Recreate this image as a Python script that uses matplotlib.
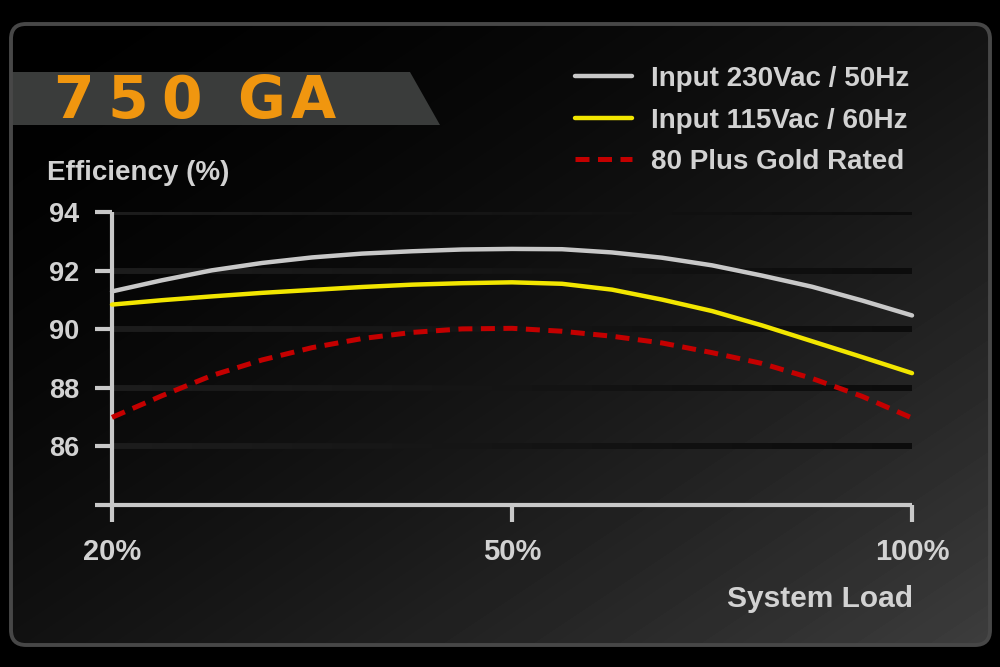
import numpy as np
import matplotlib
matplotlib.use("Agg")
import matplotlib.pyplot as plt
from matplotlib.patches import FancyBboxPatch, Polygon
from matplotlib.collections import LineCollection

plt.rcParams['font.family'] = ['Liberation Sans', 'DejaVu Sans']

# ---------------- data ----------------
title = "750 GA"
load_labels = ["20%", "50%", "100%"]
load_pos = [0, 1, 2]
# sample positions along the (evenly spaced) load axis, 0 = 20%, 1 = 50%, 2 = 100%
pos = [0, 0.125, 0.25, 0.375, 0.5, 0.625, 0.75, 0.875, 1.0,
       1.125, 1.25, 1.375, 1.5, 1.625, 1.75, 1.875, 2.0]
eff_230 = [91.29, 91.67, 92.01, 92.26, 92.45, 92.58, 92.66, 92.72, 92.74,
           92.73, 92.62, 92.44, 92.18, 91.83, 91.45, 90.98, 90.47]
eff_115 = [90.84, 90.99, 91.12, 91.24, 91.34, 91.44, 91.52, 91.57, 91.60,
           91.55, 91.35, 91.01, 90.62, 90.13, 89.59, 89.05, 88.50]
eff_gold = [86.99, 87.73, 88.42, 88.95, 89.37, 89.68, 89.89, 90.01, 90.03,
            89.93, 89.76, 89.53, 89.20, 88.83, 88.32, 87.71, 86.97]
series_names = ["Input 230Vac / 50Hz", "Input 115Vac / 60Hz", "80 Plus Gold Rated"]
y_ticks = [84, 86, 88, 90, 92, 94]

txt_col = '#d2d2d2'
axis_col = '#c8c8c8'

W, H = 1000, 667
fig = plt.figure(figsize=(10, 6.67), dpi=100, facecolor='black')

# ---------------- background panel ----------------
bg = fig.add_axes([0, 0, 1, 1])
bg.set_xlim(0, W)
bg.set_ylim(H, 0)
bg.axis('off')
bg.set_facecolor('black')

yy, xx = np.mgrid[0:H, 0:W]
g = 0.25 * ((xx / W + yy / H) / 2) ** 1.8
panel = FancyBboxPatch((11, 24), 979, 621, boxstyle="round,pad=0,rounding_size=15",
                       facecolor='none', edgecolor='none')
bg.add_patch(panel)
im = bg.imshow(g, cmap='gray', vmin=0, vmax=1, extent=(0, W, H, 0), zorder=0)
im.set_clip_path(panel)
frame = FancyBboxPatch((11, 24), 979, 621, boxstyle="round,pad=0,rounding_size=15",
                       facecolor='none', edgecolor='#474747', lw=2.8, zorder=3)
bg.add_patch(frame)

# title banner
bg.add_patch(Polygon([(12, 72), (410, 72), (440, 125), (12, 125)], closed=True,
                     facecolor='#3a3c3b', edgecolor='none', zorder=2))
# spread letters out a bit like the wide original typeface
for ch, cx in zip(title.replace(" ", ""), [73, 128, 181, 261, 313]):
    bg.text(cx, 118, ch, color='#f0960f', fontsize=42, fontweight='bold',
            family=['DejaVu Sans'], ha='center', va='baseline', zorder=4)

bg.text(47, 180, "Efficiency (%)", color=txt_col, fontsize=20, fontweight='bold',
        ha='left', va='baseline')
bg.text(913, 607, "System Load", color=txt_col, fontsize=21.5, fontweight='bold',
        ha='right', va='baseline')

# ---------------- main chart ----------------
ax = fig.add_axes([112 / W, 1 - 505 / H, 800 / W, (505 - 212) / H])
ax.set_facecolor('none')
ax.set_xlim(0, 2)
ax.set_ylim(84, 94)

# grid bands: a little lighter than the bg on the left, darker on the right
n = 40
xs = np.linspace(0, 2, n + 1)
band_cols = [(0.11 - 0.065 * i / n,) * 3 for i in range(n)]
for yv in y_ticks[1:]:
    segs = [[(xs[i], yv), (xs[i + 1], yv)] for i in range(n)]
    ax.add_collection(LineCollection(segs, colors=band_cols, linewidths=4.3,
                                     capstyle='butt', zorder=1))

l1, = ax.plot(pos, eff_230, color='#c8c8c8', lw=3.2, solid_capstyle='round',
              solid_joinstyle='round', clip_on=False, zorder=4, label=series_names[0])
l2, = ax.plot(pos, eff_115, color='#f2e600', lw=3.2, solid_capstyle='round',
              solid_joinstyle='round', clip_on=False, zorder=4, label=series_names[1])
l3, = ax.plot(pos, eff_gold, color='#c40000', lw=3.6, dashes=(2.8, 1.7),
              dash_capstyle='butt', clip_on=False, zorder=3, label=series_names[2])

for s in ['top', 'right']:
    ax.spines[s].set_visible(False)
for s in ['left', 'bottom']:
    ax.spines[s].set_color(axis_col)
    ax.spines[s].set_linewidth(3)
    ax.spines[s].set_capstyle('butt')

ax.set_yticks(y_ticks)
ax.set_yticklabels([''] + [str(v) for v in y_ticks[1:]])
ax.set_xticks(load_pos)
ax.set_xticklabels(load_labels)
ax.tick_params(axis='both', colors=axis_col, length=12.5, width=3, direction='out')
ax.tick_params(axis='y', pad=11, labelsize=19.5, labelcolor=txt_col)
ax.tick_params(axis='x', pad=11, labelsize=21, labelcolor=txt_col)
for t in ax.get_yticklabels() + ax.get_xticklabels():
    t.set_fontweight('bold')

leg = ax.legend(handles=[l1, l2, l3], loc='upper left',
                bbox_to_anchor=(575 / W, 1 - 66 / H), bbox_transform=fig.transFigure,
                frameon=False, fontsize=20, handlelength=2.05, handletextpad=0.7,
                labelspacing=0.56, borderpad=0, borderaxespad=0)
for t in leg.get_texts():
    t.set_color(txt_col)
    t.set_fontweight('bold')

fig.savefig('out.png', dpi=100, facecolor='black')
